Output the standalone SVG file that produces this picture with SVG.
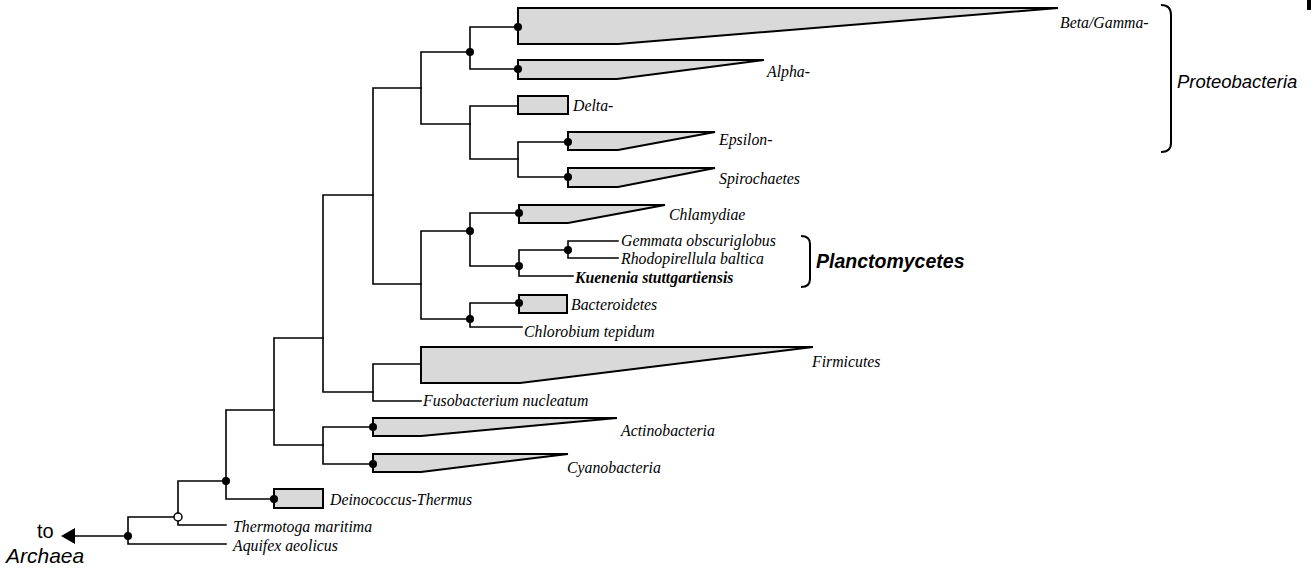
<svg xmlns="http://www.w3.org/2000/svg" width="1316" height="569" viewBox="0 0 1316 569">
<style>
.e{fill:none;stroke:#000;stroke-width:1.6;stroke-linecap:square}
.c{fill:#d9d9d9;stroke:#000;stroke-width:2;stroke-linejoin:miter}
.d{fill:#000}
.o{fill:#fff;stroke:#000;stroke-width:1.5}
.t{font-family:"Liberation Serif","Times New Roman",serif;font-style:italic;font-size:15.8px;fill:#000}
.b{font-weight:bold}
.s{font-family:"Liberation Sans",Arial,sans-serif;font-size:18.5px;fill:#000}
.br{fill:none;stroke:#000;stroke-width:2}
</style>
<rect width="1316" height="569" fill="#fff"/>
<g id="connectors">
<path class="e" d="M75,536H128M128,517V544M128,517H178M128,544H226"/>
<polygon points="61,536 75,528 75,544" fill="#000"/>
<path class="e" d="M178,481V525M178,481H226M178,525H226"/>
<path class="e" d="M226,410V499M226,410H274M226,499H274"/>
<path class="e" d="M274,338V445M274,338H323M274,445H323"/>
<path class="e" d="M323,427V464M323,427H373M323,464H373"/>
<path class="e" d="M323,195V392M323,195H373M323,392H373"/>
<path class="e" d="M373,364V401M373,364H421M373,401H421"/>
<path class="e" d="M373,88V284M373,88H421M373,284H421"/>
<path class="e" d="M421,52V124M421,52H470M421,124H470"/>
<path class="e" d="M470,27V69M470,27H518M470,69H518"/>
<path class="e" d="M470,106V159M470,106H518M470,159H518"/>
<path class="e" d="M518,142V177M518,142H568M518,177H568"/>
<path class="e" d="M421,231V319M421,231H470M421,319H470"/>
<path class="e" d="M470,213V266M470,213H519M470,266H519"/>
<path class="e" d="M519,250V276M519,250H568M519,276H573"/>
<path class="e" d="M568,241V258M568,241H618M568,258H618"/>
<path class="e" d="M470,303V327M470,303H519M470,327H522"/>
</g>
<g id="beta-gamma"><polygon class="c" points="518,8 1058,8 618,44 518,44"/><circle class="d" cx="518" cy="27" r="4"/><text class="t" x="1060" y="28">Beta/Gamma-</text></g>
<g id="alpha"><polygon class="c" points="518,60 764,60 617,79 518,79"/><circle class="d" cx="518" cy="69" r="4"/><text class="t" x="767" y="77">Alpha-</text></g>
<g id="delta"><rect class="c" x="518" y="96" width="50" height="18"/><text class="t" x="573" y="111">Delta-</text></g>
<g id="epsilon"><polygon class="c" points="568,132 715,132 618,150 568,150"/><circle class="d" cx="568" cy="142" r="4"/><text class="t" x="719" y="145">Epsilon-</text></g>
<g id="spirochaetes"><polygon class="c" points="568,168 715,168 618,187 568,187"/><circle class="d" cx="568" cy="177" r="4"/><text class="t" x="719" y="184">Spirochaetes</text></g>
<g id="chlamydiae"><polygon class="c" points="519,205 665,205 568,223 519,223"/><circle class="d" cx="519" cy="213" r="4"/><text class="t" x="669" y="220">Chlamydiae</text></g>
<g id="gemmata"><text class="t" x="621" y="246">Gemmata obscuriglobus</text></g>
<g id="rhodopirellula"><text class="t" x="621" y="264">Rhodopirellula baltica</text></g>
<g id="kuenenia"><text class="t b" x="575" y="283">Kuenenia stuttgartiensis</text></g>
<g id="bacteroidetes"><rect class="c" x="519" y="295" width="48" height="18"/><circle class="d" cx="519" cy="303" r="4"/><text class="t" x="571" y="310">Bacteroidetes</text></g>
<g id="chlorobium"><text class="t" x="524" y="337">Chlorobium tepidum</text></g>
<g id="firmicutes"><polygon class="c" points="421,347 813,347 520,383 421,383"/><text class="t" x="812" y="367">Firmicutes</text></g>
<g id="fusobacterium"><text class="t" x="423" y="406">Fusobacterium nucleatum</text></g>
<g id="actinobacteria"><polygon class="c" points="373,418 617,418 421,436 373,436"/><circle class="d" cx="373" cy="427" r="4"/><text class="t" x="621" y="436">Actinobacteria</text></g>
<g id="cyanobacteria"><polygon class="c" points="373,454 568,454 421,472 373,472"/><circle class="d" cx="373" cy="464" r="4"/><text class="t" x="567" y="473">Cyanobacteria</text></g>
<g id="deinococcus"><rect class="c" x="274" y="489" width="49" height="19"/><circle class="d" cx="274" cy="499" r="4"/><text class="t" x="330" y="505">Deinococcus-Thermus</text></g>
<g id="thermotoga"><text class="t" x="233" y="532">Thermotoga maritima</text></g>
<g id="aquifex"><text class="t" x="233" y="551">Aquifex aeolicus</text></g>
<g id="nodes">
<circle class="d" cx="470" cy="52" r="4"/>
<circle class="d" cx="470" cy="231" r="4"/>
<circle class="d" cx="519" cy="266" r="4"/>
<circle class="d" cx="568" cy="250" r="4"/>
<circle class="d" cx="470" cy="319" r="4"/>
<circle class="d" cx="226" cy="481" r="4"/>
<circle class="d" cx="128" cy="536" r="4"/>
<circle class="o" cx="178" cy="517" r="4"/>
</g>
<g id="proteobacteria"><path class="br" d="M1161,5Q1171,5 1171,15V143Q1171,152 1161,152"/><text class="s" x="1177" y="88" style="font-style:italic">Proteobacteria</text></g>
<g id="planctomycetes"><path class="br" d="M801,236Q810,236 810,244V279Q810,287 801,287"/><text class="s" x="816" y="268" style="font-size:19.5px;font-style:italic;font-weight:bold">Planctomycetes</text></g>
<g id="archaea"><text class="s" x="37" y="538" style="font-size:20px">to</text><text class="s" x="6" y="563" style="font-size:21px;font-style:italic">Archaea</text></g>
<rect x="1307" y="0" width="4" height="10" fill="#000"/>
</svg>
